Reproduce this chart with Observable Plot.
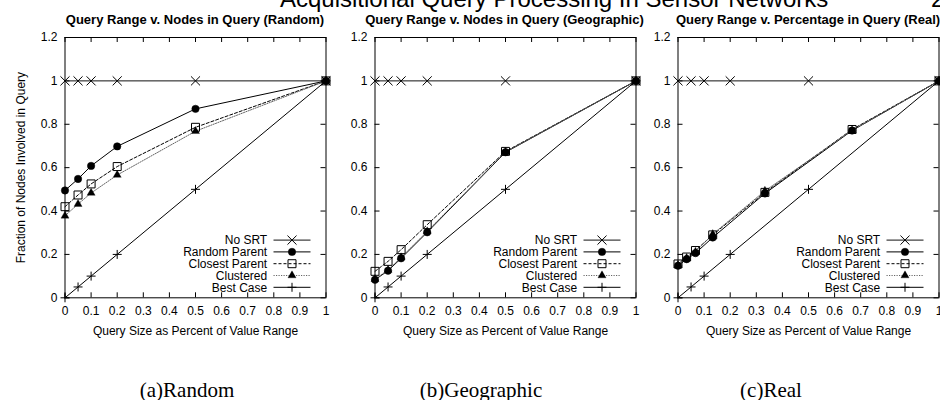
<!DOCTYPE html>
<html><head><meta charset="utf-8">
<script src="https://cdn.jsdelivr.net/npm/d3@7"></script>
<script src="https://cdn.jsdelivr.net/npm/@observablehq/plot@0.6"></script>
<style>
html,body{margin:0;padding:0;background:#fff;overflow:hidden;}
#root{position:relative;width:940px;height:400px;overflow:hidden;background:#fff;}
.panel{position:absolute;top:0;}
#overlay{position:absolute;left:0;top:0;}
</style></head>
<body><div id="root"></div>
<script>
// ---------- data ----------
const seriesNames = ["No SRT", "Random Parent", "Closest Parent", "Clustered", "Best Case"];
const xTicks = [0, 0.1, 0.2, 0.3, 0.4, 0.5, 0.6, 0.7, 0.8, 0.9, 1];
const yTicks = [0, 0.2, 0.4, 0.6, 0.8, 1, 1.2];
const xCommon = [0, 0.05, 0.1, 0.2, 0.5, 1];
const xReal = [0, 0.033, 0.067, 0.133, 0.333, 0.667, 1];
const noSRT = [1, 1, 1, 1, 1, 1];
const bestCase = [0, 0.05, 0.1, 0.2, 0.5, 1];
const randomRandomParent = [0.495, 0.548, 0.608, 0.698, 0.871, 1];
const randomClosestParent = [0.42, 0.474, 0.525, 0.605, 0.786, 1];
const randomClustered = [0.378, 0.432, 0.483, 0.566, 0.768, 1];
const geoRandomParent = [0.083, 0.125, 0.182, 0.302, 0.671, 1];
const geoClosestParent = [0.122, 0.168, 0.222, 0.337, 0.675, 1];
const geoClustered = [0.086, 0.128, 0.186, 0.306, 0.673, 1];
const realRandomParent = [0.148, 0.178, 0.206, 0.278, 0.481, 0.771, 1];
const realClosestParent = [0.156, 0.188, 0.218, 0.29, 0.486, 0.776, 1];
const realClustered = [0.15, 0.183, 0.212, 0.293, 0.493, 0.772, 1];
const panelTitles = ["Query Range v. Nodes in Query (Random)", "Query Range v. Nodes in Query (Geographic)", "Query Range v. Percentage in Query (Real)"];
const panelCaptions = ["(a)Random", "(b)Geographic", "(c)Real"];
const headerText = "Acquisitional Query Processing In Sensor Networks";
const pageNumber = "2";
const xLabel = "Query Size as Percent of Value Range";
const yLabel = "Fraction of Nodes Involved in Query";

// ---------- styles ----------
const sansFont = "'Liberation Sans', Arial, Helvetica, sans-serif";
const serifFont = "'Liberation Serif', 'Times New Roman', serif";
const styleOf = {
  "No SRT":        {stroke: "#111", dash: null,      symbol: "times",    r: 4.2, fill: "none",  mstroke: "#000", sw: 1},
  "Random Parent": {stroke: "#000", dash: null,      symbol: "circle",   r: 3.7, fill: "#000",  mstroke: "#000", sw: 0.5},
  "Closest Parent":{stroke: "#000", dash: "3,2",     symbol: "square",   r: 4.5, fill: "none",  mstroke: "#000", sw: 1},
  "Clustered":     {stroke: "#666", dash: "1.2,1.3", symbol: "triangle", r: 3.0, fill: "#000",  mstroke: "#000", sw: 0.3},
  "Best Case":     {stroke: "#000", dash: null,      symbol: "plus",     r: 3.0, fill: "none",  mstroke: "#000", sw: 1}
};
const d3Symbols = {times: d3.symbolTimes, circle: d3.symbolCircle, square: d3.symbolSquare, triangle: d3.symbolTriangle, plus: d3.symbolPlus};

function rowsFor(seriesX, seriesY) {
  const rows = [];
  seriesNames.forEach((name, i) => {
    seriesX[i].forEach((x, j) => rows.push({series: name, x, y: seriesY[i][j]}));
  });
  return rows;
}
const panelData = [
  rowsFor([xCommon, xCommon, xCommon, xCommon, xCommon], [noSRT, randomRandomParent, randomClosestParent, randomClustered, bestCase]),
  rowsFor([xCommon, xCommon, xCommon, xCommon, xCommon], [noSRT, geoRandomParent, geoClosestParent, geoClustered, bestCase]),
  rowsFor([xCommon, xReal, xReal, xReal, xCommon], [noSRT, realRandomParent, realClosestParent, realClustered, bestCase])
];

// ---------- layout ----------
const FRAME_W = 261;
const ML = 64.5, MR = 15.5, MT = 37, MB = 102.7, H = 400;
const frameLefts = [64.5, 374, 677.5];
const captionX = [187, 481, 771];
const innerH = H - MT - MB;

const root = document.getElementById("root");

panelData.forEach((rows, p) => {
  const marks = [
    Plot.tickX(xTicks, {x: d => d, insetTop: innerH - 5, stroke: "#000"}),
    Plot.tickX(xTicks, {x: d => d, insetBottom: innerH - 5, stroke: "#000"}),
    Plot.tickY(yTicks, {y: d => d, insetRight: FRAME_W - 5, stroke: "#000"}),
    Plot.tickY(yTicks, {y: d => d, insetLeft: FRAME_W - 5, stroke: "#000"}),
    Plot.axisX(xTicks, {tickSize: 0, tickPadding: 9, tickFormat: d => String(d), fontSize: 12,
      label: xLabel, labelAnchor: "center", labelOffset: 37.5, labelArrow: "none"}),
    Plot.axisY(yTicks, {tickSize: 0, tickPadding: 7.5, tickFormat: d => String(d), fontSize: 12,
      label: p === 0 ? yLabel : null, labelAnchor: "center", labelOffset: 48.5, labelArrow: "none"})
  ];
  seriesNames.forEach(name => {
    const s = styleOf[name];
    const data = rows.filter(d => d.series === name);
    marks.push(Plot.line(data, {x: "x", y: "y", stroke: s.stroke, strokeWidth: 1, strokeDasharray: s.dash}));
  });
  seriesNames.forEach(name => {
    const s = styleOf[name];
    const data = rows.filter(d => d.series === name);
    marks.push(Plot.dot(data, {x: "x", y: "y", symbol: s.symbol, r: s.r, fill: s.fill, stroke: s.mstroke, strokeWidth: s.sw}));
  });
  marks.push(Plot.frame({stroke: "#000", strokeWidth: 1}));

  const chart = Plot.plot({
    width: ML + FRAME_W + MR,
    height: H,
    marginLeft: ML, marginRight: MR, marginTop: MT, marginBottom: MB,
    x: {domain: [0, 1]},
    y: {domain: [0, 1.2]},
    style: {fontFamily: sansFont, fontSize: "12px", background: "transparent", overflow: "visible", color: "#000"},
    marks
  });
  const div = document.createElement("div");
  div.className = "panel";
  div.style.left = (frameLefts[p] - ML) + "px";
  div.style.width = (ML + FRAME_W + MR) + "px";
  div.appendChild(chart);
  root.appendChild(div);

  // in-plot key (gnuplot style)
  const svg = d3.select(chart);
  const g = svg.append("g").attr("font-family", sansFont).attr("font-size", 12);
  const fr = ML + FRAME_W, fb = H - MB;
  seriesNames.forEach((name, i) => {
    const s = styleOf[name];
    const cy = fb - 10 - 11.8 * (seriesNames.length - 1 - i);
    g.append("text").attr("x", fr - 58.3).attr("y", cy).attr("dy", "0.36em")
      .attr("text-anchor", "end").attr("fill", "#000").text(name);
    g.append("line").attr("x1", fr - 52).attr("x2", fr - 15).attr("y1", cy).attr("y2", cy)
      .attr("stroke", s.stroke).attr("stroke-width", 1).attr("stroke-dasharray", s.dash);
    g.append("path").attr("transform", `translate(${fr - 33.5},${cy})`)
      .attr("d", d3.symbol(d3Symbols[s.symbol], s.r * s.r * Math.PI)())
      .attr("fill", s.fill).attr("stroke", s.mstroke).attr("stroke-width", s.sw);
  });
});

// ---------- overlay texts ----------
const ov = d3.select(root).append("svg").attr("id", "overlay").attr("width", 940).attr("height", 400);
ov.append("text").attr("x", 280).attr("y", 7).attr("font-family", sansFont).attr("font-size", 24).text(headerText);
ov.append("text").attr("x", 931).attr("y", 7).attr("font-family", sansFont).attr("font-size", 24).text(pageNumber);
panelTitles.forEach((t, p) => {
  ov.append("text").attr("x", frameLefts[p] + FRAME_W / 2).attr("y", 24).attr("text-anchor", "middle")
    .attr("font-family", sansFont).attr("font-size", 13).attr("font-weight", "bold").text(t);
});
panelCaptions.forEach((t, p) => {
  ov.append("text").attr("x", captionX[p]).attr("y", 397).attr("text-anchor", "middle")
    .attr("font-family", serifFont).attr("font-size", 21).text(t);
});
</script>
</body></html>
